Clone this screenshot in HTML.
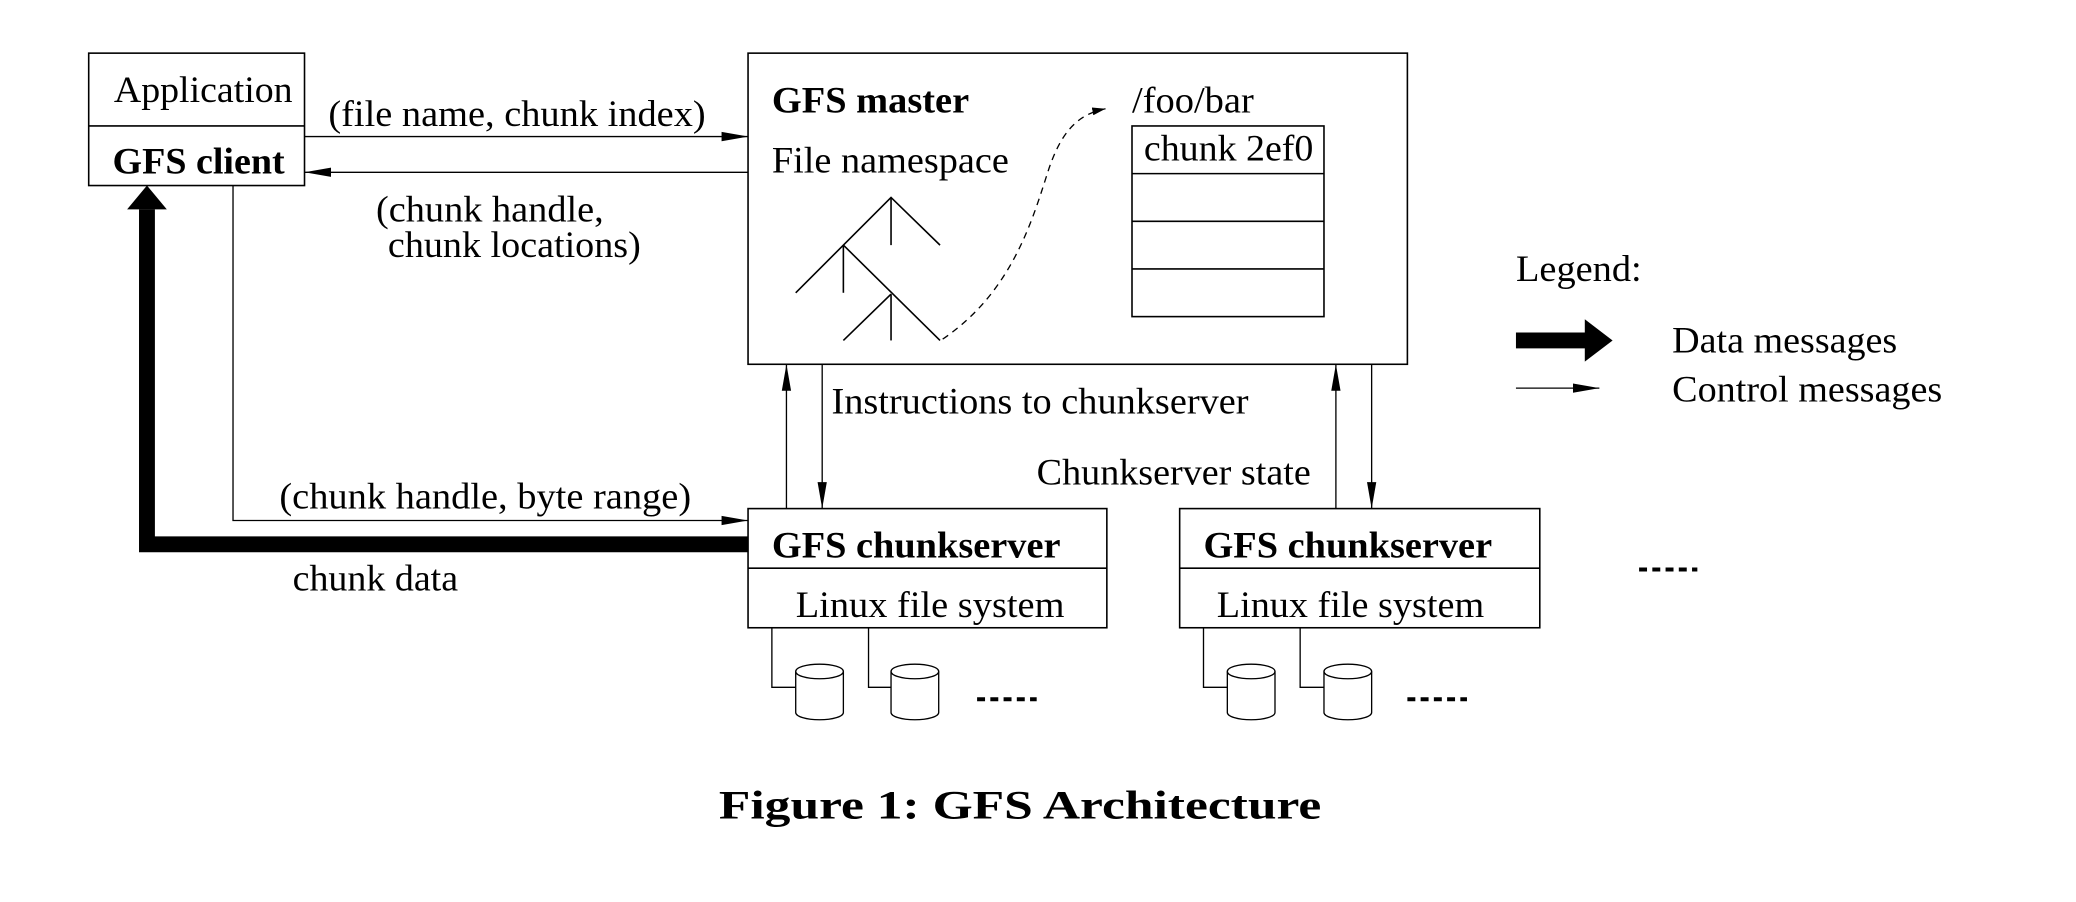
<!DOCTYPE html>
<html><head><meta charset="utf-8"><style>
html,body{margin:0;padding:0;background:#fff;}
svg{display:block;}
text{font-family:"Liberation Serif",serif;font-size:28px;fill:#000;}
.b{font-weight:bold;}
</style></head><body>
<svg width="2076" height="902" viewBox="0 0 1568 681" xmlns="http://www.w3.org/2000/svg">
<defs>
<marker id="a" markerWidth="10" markerHeight="8" refX="10" refY="4" orient="auto" markerUnits="userSpaceOnUse">
<path d="M0,1 L10,4 L0,7 Z" fill="#000"/></marker>
<marker id="a2" markerWidth="20" markerHeight="8" refX="20" refY="4" orient="auto" markerUnits="userSpaceOnUse">
<path d="M0,0.5 L20,4 L0,7.5 Z" fill="#000"/></marker>
</defs>
<g fill="none" stroke="#000" stroke-width="1.2">
<rect x="67" y="40" width="163" height="100"/>
<line x1="67" y1="95" x2="230" y2="95"/>
<rect x="565" y="40" width="498" height="235"/>
<polyline points="601,221 673,149 710,185"/>
<line x1="673" y1="149" x2="673" y2="185"/>
<line x1="637" y1="185" x2="710" y2="257"/>
<line x1="637" y1="185" x2="637" y2="221"/>
<line x1="673" y1="222" x2="637" y2="257"/>
<line x1="673" y1="222" x2="673" y2="257"/>
<path d="M712,256 C765,220 780,165 792,128 C802,98 815,86 835,82" stroke-dasharray="5,4" stroke-width="1" marker-end="url(#a)"/>
<rect x="855" y="95" width="145" height="144"/>
<line x1="855" y1="131" x2="1000" y2="131"/>
<line x1="855" y1="167" x2="1000" y2="167"/>
<line x1="855" y1="203" x2="1000" y2="203"/>
<line x1="230" y1="103" x2="565" y2="103" stroke-width="1" marker-end="url(#a2)"/>
<line x1="565" y1="130" x2="230" y2="130" stroke-width="1" marker-end="url(#a2)"/>
<polyline points="176,140 176,393 565,393" stroke-width="1" marker-end="url(#a2)"/>
<rect x="565" y="384" width="271" height="90"/>
<line x1="565" y1="429" x2="836" y2="429"/>
<rect x="891" y="384" width="272" height="90"/>
<line x1="891" y1="429" x2="1163" y2="429"/>
<line x1="594" y1="384" x2="594" y2="275" stroke-width="1" marker-end="url(#a2)"/>
<line x1="621" y1="275" x2="621" y2="384" stroke-width="1" marker-end="url(#a2)"/>
<line x1="1009" y1="384" x2="1009" y2="275" stroke-width="1" marker-end="url(#a2)"/>
<line x1="1036" y1="275" x2="1036" y2="384" stroke-width="1" marker-end="url(#a2)"/>
<g stroke-width="1">
<polyline points="583,474 583,519 601,519"/>
<polyline points="656,474 656,519 673,519"/>
<polyline points="909,474 909,519 927,519"/>
<polyline points="982,474 982,519 1000,519"/>
<g id="cyl"><path d="M601,507 L601,538 A18,5.5 0 0 0 637,538 L637,507"/><ellipse cx="619" cy="507" rx="18" ry="5.5"/></g>
<use href="#cyl" x="72"/><use href="#cyl" x="326"/><use href="#cyl" x="399"/>
<line x1="1145" y1="293" x2="1208" y2="293" marker-end="url(#a2)"/>
</g>
</g>
<g stroke="#000" stroke-width="3" stroke-dasharray="6,4" fill="none">
<line x1="738" y1="528" x2="783" y2="528"/>
<line x1="1063" y1="528" x2="1108" y2="528"/>
<line x1="1238" y1="430" x2="1282" y2="430"/>
</g>
<polyline points="565,411 111,411 111,158" fill="none" stroke="#000" stroke-width="12"/>
<path d="M96,158 L111,140 L126,158 Z" fill="#000"/>
<path d="M1145,251 L1197,251 L1197,241 L1218,257 L1197,273 L1197,263 L1145,263 Z" fill="#000"/>
<text x="86" y="77" textLength="135" lengthAdjust="spacingAndGlyphs">Application</text>
<text class="b" x="85" y="131" textLength="130" lengthAdjust="spacingAndGlyphs">GFS client</text>
<text x="248" y="95" textLength="285" lengthAdjust="spacingAndGlyphs">(file name, chunk index)</text>
<text x="284" y="167" textLength="172" lengthAdjust="spacingAndGlyphs">(chunk handle,</text>
<text x="293" y="194" textLength="191" lengthAdjust="spacingAndGlyphs">chunk locations)</text>
<text class="b" x="583" y="85" textLength="149" lengthAdjust="spacingAndGlyphs">GFS master</text>
<text x="583" y="130" textLength="179" lengthAdjust="spacingAndGlyphs">File namespace</text>
<text x="855" y="85" textLength="92" lengthAdjust="spacingAndGlyphs">/foo/bar</text>
<text x="864" y="121" textLength="128" lengthAdjust="spacingAndGlyphs">chunk 2ef0</text>
<text x="1145" y="212" textLength="95" lengthAdjust="spacingAndGlyphs">Legend:</text>
<text x="1263" y="266" textLength="170" lengthAdjust="spacingAndGlyphs">Data messages</text>
<text x="1263" y="303" textLength="204" lengthAdjust="spacingAndGlyphs">Control messages</text>
<text x="628" y="312" textLength="315" lengthAdjust="spacingAndGlyphs">Instructions to chunkserver</text>
<text x="783" y="366" textLength="207" lengthAdjust="spacingAndGlyphs">Chunkserver state</text>
<text x="211" y="384" textLength="311" lengthAdjust="spacingAndGlyphs">(chunk handle, byte range)</text>
<text x="221" y="446" textLength="125" lengthAdjust="spacingAndGlyphs">chunk data</text>
<text class="b" x="583" y="421" textLength="218" lengthAdjust="spacingAndGlyphs">GFS chunkserver</text>
<text x="601" y="466" textLength="203" lengthAdjust="spacingAndGlyphs">Linux file system</text>
<text class="b" x="909" y="421" textLength="218" lengthAdjust="spacingAndGlyphs">GFS chunkserver</text>
<text x="919" y="466" textLength="202" lengthAdjust="spacingAndGlyphs">Linux file system</text>
<text class="b" x="543" y="618" style="font-size:30px" textLength="455" lengthAdjust="spacingAndGlyphs">Figure 1:  GFS Architecture</text>
</svg>
</body></html>
